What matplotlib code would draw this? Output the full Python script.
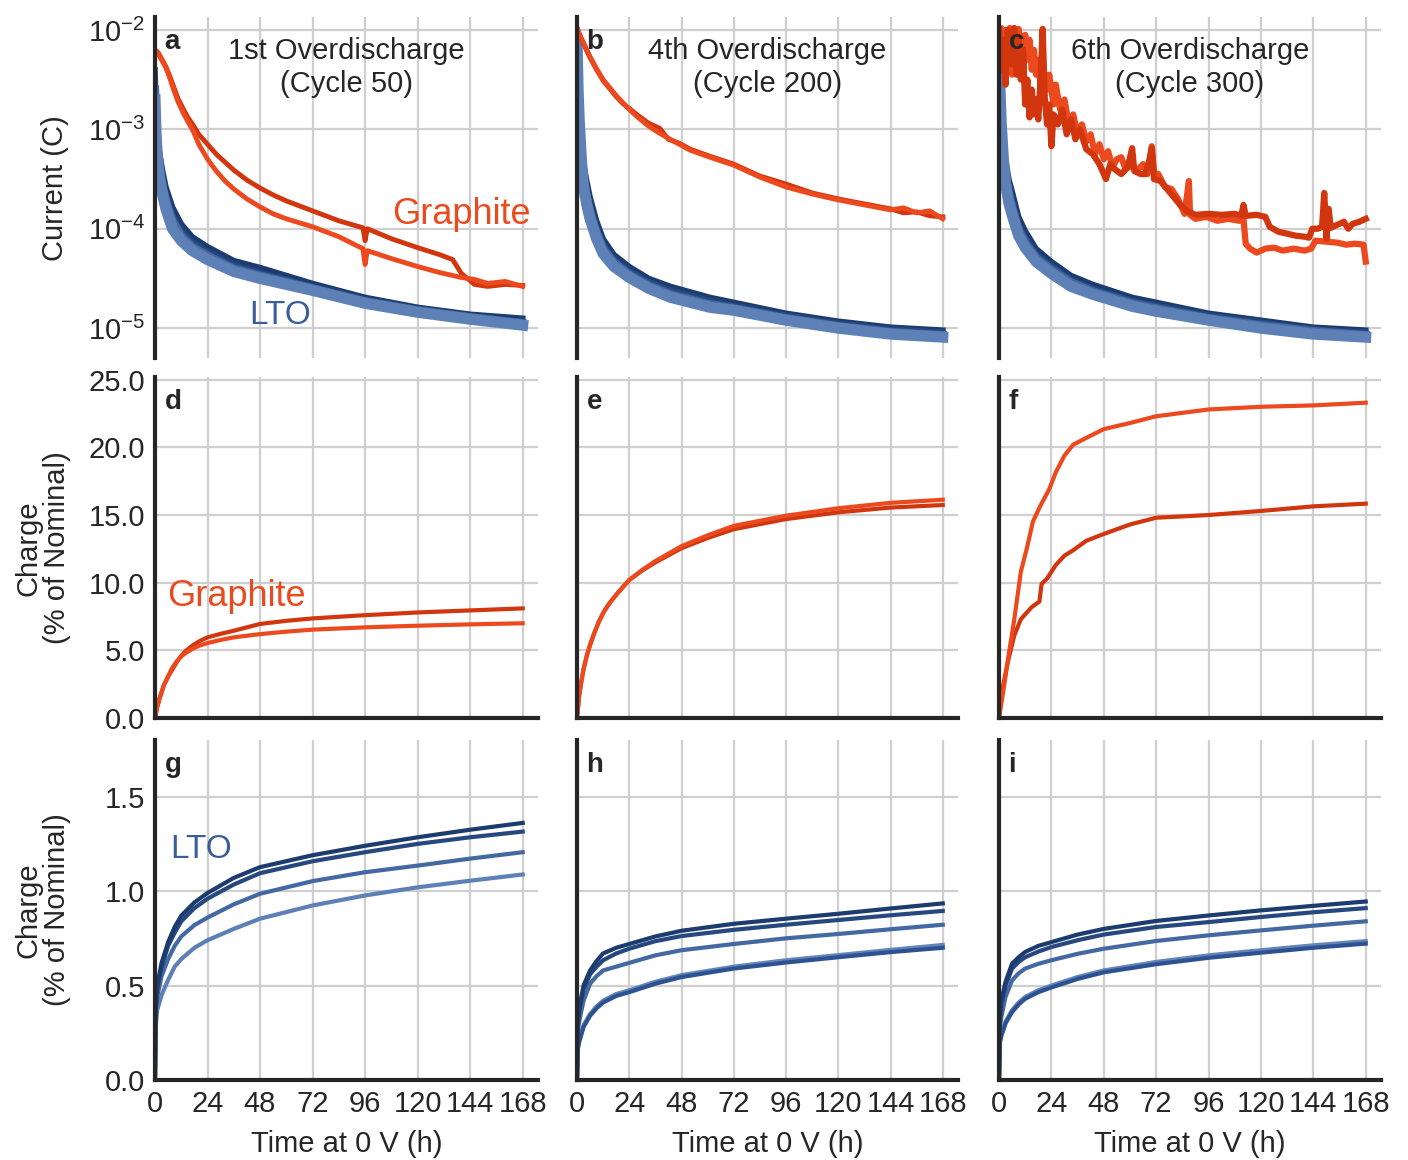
import numpy as np
import matplotlib as mpl
mpl.use('Agg')
import matplotlib.pyplot as plt
from matplotlib.ticker import FixedLocator, FormatStrFormatter, NullFormatter

plt.rcParams['font.family'] = ['Liberation Sans', 'DejaVu Sans']
plt.rcParams['mathtext.default'] = 'regular'

# ---------------- data ----------------
hours = [0, 24, 48, 72, 96, 120, 144, 168]
titles = ['1st Overdischarge\n(Cycle 50)', '4th Overdischarge\n(Cycle 200)',
          '6th Overdischarge\n(Cycle 300)']

# top row: log10 of current (C)
t_gr_a = [0, 1.5, 3, 5, 7, 8.5, 10.5, 13, 15, 17.5, 20, 24, 28, 32, 36, 42, 48, 54, 60,
          66, 72, 84, 95, 96, 97, 108, 120, 130, 136, 140, 146, 152, 160, 168]
gr_a_dark = [-2.2, -2.23, -2.29, -2.37, -2.48, -2.57, -2.69, -2.8, -2.88, -2.96, -3.05,
             -3.15, -3.25, -3.33, -3.41, -3.51, -3.59, -3.66, -3.72, -3.77, -3.82, -3.92,
             -3.99, -4.12, -4.0, -4.1, -4.19, -4.26, -4.31, -4.45, -4.56, -4.58, -4.56,
             -4.57]
gr_a_bright = [-2.2, -2.24, -2.3, -2.38, -2.5, -2.6, -2.72, -2.84, -2.92, -3.02, -3.15,
               -3.3, -3.42, -3.52, -3.6, -3.7, -3.78, -3.85, -3.9, -3.94, -3.98, -4.08,
               -4.2, -4.36, -4.22, -4.3, -4.38, -4.44, -4.47, -4.49, -4.51, -4.55, -4.53,
               -4.58]

t_gr_b = [0, 1.5, 3, 4.5, 6, 9, 12, 15, 18, 21, 24, 28, 33, 38, 42, 47, 52, 61, 72, 84,
          96, 108, 120, 132, 144, 150, 156, 162, 168]
gr_b_bright = [-1.98, -2.06, -2.13, -2.2, -2.27, -2.39, -2.5, -2.58, -2.66, -2.73, -2.8,
               -2.88, -2.97, -3.04, -3.09, -3.15, -3.21, -3.28, -3.36, -3.48, -3.58,
               -3.65, -3.71, -3.76, -3.81, -3.79, -3.84, -3.82, -3.9]
gr_b_dark = [-1.98, -2.07, -2.14, -2.21, -2.28, -2.4, -2.51, -2.59, -2.67, -2.74, -2.79,
             -2.86, -2.94, -2.99, -3.1, -3.14, -3.2, -3.27, -3.35, -3.47, -3.55, -3.64,
             -3.7, -3.75, -3.8, -3.84, -3.83, -3.87, -3.88]

t_gr_c_bright = [0, 1, 2, 3, 4, 5, 6, 7, 8, 9, 10, 11, 12, 13, 14, 15, 16, 17, 18, 19, 20,
                 22, 23, 25, 26, 28, 30, 32, 34, 36, 38, 40, 42, 44, 46, 48, 50, 52, 54,
                 56, 58, 61, 63, 66, 68, 70, 71, 73, 76, 79, 82, 85, 87, 87.5, 90, 95,
                 100, 105, 110, 112, 113, 115, 118, 122, 126, 130, 135, 140, 143, 145,
                 150, 155, 159, 163, 167, 168]
gr_c_bright = [-2.05, -1.98, -2.3, -2.0, -2.2, -1.98, -2.45, -2.05, -2.3, -1.99, -2.15,
               -2.5, -2.05, -2.3, -2.1, -2.4, -2.2, -2.45, -2.3, -2.55, -2.35, -2.6, -2.45,
               -2.75, -2.55, -2.8, -2.7, -2.95, -2.85, -3.05, -2.95, -3.12, -3.05, -3.25,
               -3.15, -3.3, -3.22, -3.38, -3.3, -3.28, -3.4, -3.36, -3.42, -3.35, -3.45,
               -3.17, -3.44, -3.45, -3.58, -3.6, -3.7, -3.85, -3.52, -3.86, -3.9, -3.88,
               -3.92, -3.9, -3.92, -3.9, -4.15, -4.2, -4.24, -4.2, -4.19, -4.22, -4.2,
               -4.22, -4.2, -4.12, -4.13, -4.14, -4.16, -4.15, -4.16, -4.33]
t_gr_c_dark = [0, 1, 2, 3, 4, 5, 6, 7, 8, 9, 10, 11, 12, 13, 14, 15, 16, 17, 18, 19, 20,
               21, 22, 23, 24, 25, 27, 29, 31, 33, 35, 37, 40, 43, 46, 49, 51, 53, 56,
               59, 61, 62, 65, 67, 69, 70, 71, 74, 77, 80, 83, 86, 90, 96, 102, 108,
               111, 112, 113, 118, 122, 124, 128, 132, 136, 140, 142, 143.5, 146, 148,
               149, 150, 151, 152, 155, 158, 160, 162, 165, 168]
gr_c_dark = [-2.0, -2.4, -2.1, -2.55, -2.0, -2.2, -2.35, -1.98, -2.45, -2.1, -2.5, -2.2,
             -2.75, -2.5, -2.88, -2.6, -2.85, -2.7, -2.9, -2.5, -1.99, -2.7, -2.95, -2.75,
             -3.17, -2.85, -2.95, -2.8, -3.05, -2.9, -3.1, -3.0, -3.2, -3.25, -3.35, -3.5,
             -3.35, -3.4, -3.45, -3.38, -3.19, -3.42, -3.45, -3.45, -3.3, -3.19, -3.5,
             -3.52, -3.6, -3.68, -3.76, -3.82, -3.86, -3.85, -3.86, -3.85, -3.87, -3.76,
             -3.87, -3.86, -3.88, -3.98, -4.03, -4.05, -4.07, -4.08, -4.09, -4.0, -4.0,
             -3.98, -3.64, -4.1, -3.8, -3.99, -3.96, -3.93, -4.0, -3.95, -3.93, -3.9]

t_lto_a = [0, 0.5, 1, 2, 3.5, 5, 8, 12, 17, 24, 36, 48, 72, 96, 120, 144, 168]
lto_a = [
    [-2.4, -2.8, -3.0, -3.22, -3.42, -3.58, -3.78, -3.95, -4.08, -4.18, -4.32, -4.39,
     -4.55, -4.69, -4.79, -4.86, -4.9],
    [-2.5, -2.88, -3.08, -3.3, -3.5, -3.65, -3.85, -4.01, -4.13, -4.23, -4.36, -4.44,
     -4.58, -4.71, -4.81, -4.88, -4.93],
    [-2.6, -2.95, -3.16, -3.38, -3.58, -3.72, -3.92, -4.07, -4.18, -4.27, -4.4, -4.47,
     -4.6, -4.73, -4.82, -4.89, -4.95],
    [-2.7, -3.05, -3.25, -3.48, -3.66, -3.8, -4.0, -4.12, -4.22, -4.31, -4.43, -4.5,
     -4.62, -4.75, -4.84, -4.91, -4.97],
]
t_lto_bc = [0, 0.5, 1, 2, 3, 4.5, 6, 9, 12, 17, 24, 33, 43, 61, 72, 96, 120, 144, 168]
lto_b = [
    [-2.0, -2.4, -2.7, -3.05, -3.34, -3.52, -3.68, -3.92, -4.1, -4.26, -4.38, -4.5,
     -4.58, -4.69, -4.74, -4.85, -4.93, -4.99, -5.02],
    [-2.05, -2.47, -2.77, -3.13, -3.42, -3.6, -3.76, -3.98, -4.15, -4.3, -4.42, -4.53,
     -4.62, -4.72, -4.77, -4.87, -4.95, -5.01, -5.04],
    [-2.08, -2.53, -2.84, -3.21, -3.5, -3.68, -3.83, -4.04, -4.2, -4.34, -4.46, -4.57,
     -4.66, -4.76, -4.8, -4.9, -4.98, -5.04, -5.07],
    [-2.1, -2.6, -2.9, -3.3, -3.58, -3.76, -3.9, -4.1, -4.25, -4.38, -4.49, -4.6,
     -4.69, -4.79, -4.82, -4.92, -5.0, -5.06, -5.09],
]
lto_c = [
    [-2.1, -2.45, -2.72, -3.05, -3.3, -3.5, -3.62, -3.88, -4.02, -4.2, -4.33, -4.47,
     -4.56, -4.69, -4.74, -4.85, -4.92, -4.99, -5.02],
    [-2.15, -2.5, -2.79, -3.13, -3.38, -3.58, -3.7, -3.95, -4.08, -4.25, -4.37, -4.51,
     -4.6, -4.72, -4.77, -4.87, -4.94, -5.01, -5.04],
    [-2.18, -2.56, -2.86, -3.21, -3.46, -3.66, -3.78, -4.01, -4.14, -4.29, -4.41, -4.54,
     -4.63, -4.75, -4.8, -4.9, -4.97, -5.03, -5.07],
    [-2.2, -2.62, -2.93, -3.3, -3.55, -3.74, -3.86, -4.07, -4.19, -4.33, -4.45, -4.58,
     -4.66, -4.78, -4.83, -4.92, -5.0, -5.06, -5.09],
]

# middle row: graphite charge (% of nominal)
t_d = [0, 1, 2, 4, 6, 8, 10, 12, 14, 17, 20, 24, 30, 36, 48, 60, 72, 96, 120, 144, 168]
d_dark = [0, 0.8, 1.4, 2.4, 3.05, 3.6, 4.15, 4.6, 4.95, 5.34, 5.65, 5.96, 6.22, 6.45,
          6.95, 7.18, 7.36, 7.6, 7.8, 7.95, 8.1]
d_bright = [0, 0.8, 1.4, 2.4, 3.1, 3.74, 4.2, 4.55, 4.8, 5.1, 5.33, 5.54, 5.77, 5.96,
            6.2, 6.38, 6.53, 6.7, 6.82, 6.92, 7.0]
t_e = [0, 1, 2, 3, 4.5, 6, 8, 10, 12.5, 15, 19, 24, 30, 36, 48, 60, 72, 96, 120, 144, 168]
e_bright = [0, 1.65, 2.7, 3.6, 4.6, 5.4, 6.3, 7.1, 7.9, 8.5, 9.3, 10.2, 10.95, 11.6, 12.7,
            13.5, 14.2, 14.95, 15.5, 15.9, 16.13]
e_dark = [0, 1.65, 2.7, 3.6, 4.6, 5.4, 6.3, 7.1, 7.9, 8.5, 9.3, 10.2, 10.9, 11.5, 12.55,
          13.3, 13.95, 14.7, 15.2, 15.55, 15.74]
t_f_bright = [0, 2, 4, 7, 10, 13, 15.5, 19, 23, 26, 30, 34, 40, 48, 60, 72, 96, 120, 144, 168]
f_bright = [0, 2.0, 4.2, 7.3, 10.8, 12.7, 14.5, 15.7, 16.9, 18.15, 19.4, 20.2, 20.7, 21.35,
            21.8, 22.3, 22.8, 23.0, 23.1, 23.3]
t_f_dark = [0, 1.5, 4, 7, 10, 15, 18.5, 19.5, 22, 26, 30, 34, 40, 48, 60, 72, 96, 120, 144, 168]
f_dark = [0, 2.1, 4.1, 6.1, 7.3, 8.2, 8.6, 9.9, 10.3, 11.3, 12.0, 12.4, 13.1, 13.6, 14.3,
          14.8, 15.0, 15.3, 15.64, 15.84]

# bottom row: LTO charge (% of nominal)
t_lto_q = [0, 0.3, 1, 3, 6, 9, 12, 18, 24, 36, 48, 72, 96, 120, 144, 168]
g_q = [
    [0, 0.38, 0.5, 0.62, 0.73, 0.81, 0.87, 0.94, 0.99, 1.07, 1.127, 1.19, 1.24, 1.285, 1.325, 1.361],
    [0, 0.36, 0.48, 0.6, 0.71, 0.78, 0.84, 0.91, 0.96, 1.035, 1.095, 1.158, 1.206, 1.25, 1.285, 1.315],
    [0, 0.33, 0.44, 0.55, 0.64, 0.71, 0.76, 0.82, 0.86, 0.93, 0.986, 1.053, 1.10, 1.135, 1.172, 1.206],
    [0, 0.28, 0.37, 0.45, 0.53, 0.6, 0.64, 0.7, 0.74, 0.80, 0.854, 0.924, 0.977, 1.02, 1.055, 1.088],
]
h_q = [
    [0, 0.3, 0.38, 0.5, 0.58, 0.63, 0.67, 0.70, 0.72, 0.76, 0.79, 0.827, 0.854, 0.88, 0.908, 0.935],
    [0, 0.28, 0.36, 0.48, 0.56, 0.60, 0.634, 0.67, 0.695, 0.735, 0.762, 0.795, 0.822, 0.847, 0.872, 0.895],
    [0, 0.25, 0.31, 0.42, 0.51, 0.55, 0.58, 0.60, 0.62, 0.66, 0.687, 0.72, 0.75, 0.773, 0.798, 0.822],
    [0, 0.16, 0.2, 0.28, 0.34, 0.38, 0.41, 0.445, 0.465, 0.51, 0.545, 0.59, 0.622, 0.65, 0.677, 0.70],
    [0, 0.17, 0.21, 0.29, 0.35, 0.39, 0.42, 0.455, 0.475, 0.52, 0.555, 0.60, 0.634, 0.661, 0.689, 0.715],
]
i_q = [
    [0, 0.32, 0.42, 0.52, 0.616, 0.65, 0.678, 0.71, 0.73, 0.77, 0.80, 0.842, 0.871, 0.898, 0.922, 0.945],
    [0, 0.30, 0.4, 0.5, 0.59, 0.625, 0.65, 0.68, 0.704, 0.74, 0.77, 0.81, 0.836, 0.863, 0.888, 0.91],
    [0, 0.26, 0.33, 0.44, 0.528, 0.565, 0.59, 0.615, 0.634, 0.668, 0.695, 0.736, 0.766, 0.792, 0.817, 0.84],
    [0, 0.19, 0.23, 0.3, 0.36, 0.40, 0.43, 0.465, 0.49, 0.535, 0.57, 0.613, 0.647, 0.674, 0.70, 0.722],
    [0, 0.2, 0.24, 0.31, 0.37, 0.41, 0.44, 0.475, 0.50, 0.545, 0.58, 0.625, 0.66, 0.687, 0.713, 0.735],
]

# ---------------- style ----------------
RED_BRIGHT = '#ec4a1e'
RED_DARK = '#d2360f'
BLUES = ['#1c3b6e', '#26487f', '#4468a2', '#5d80b6']
BLUE_5 = ['#1c3b6e', '#26487f', '#4468a2', '#2d5291', '#6585ba']
LTO_TXT = '#3a5e9a'
SPINE = '#262626'
GRID = '#cfcfcf'
FS = 21

W, H = 1408.0, 1160.0
col_px = [(155, 383), (577, 381), (999, 382)]
row_px = [(17, 358), (377, 718), (740, 1080)]


def make_ax(fig, r, c):
  l, w = col_px[c]
  t, b = row_px[r]
  ax = fig.add_axes([l / W, 1 - b / H, w / W, (b - t) / H])
  for s in ['top', 'right']:
    ax.spines[s].set_visible(False)
  ax.spines['left'].set_color(SPINE)
  ax.spines['left'].set_linewidth(3)
  ax.spines['bottom'].set_color(SPINE)
  ax.spines['bottom'].set_linewidth(3)
  if r == 0:
    ax.spines['bottom'].set_visible(False)
  ax.set_xlim(0, 175)
  ax.xaxis.set_major_locator(FixedLocator(hours))
  ax.grid(True, color=GRID, linewidth=1.6)
  ax.set_axisbelow(True)
  ax.tick_params(length=0, labelsize=FS, colors=SPINE, pad=7)
  if r < 2:
    ax.xaxis.set_major_formatter(NullFormatter())
  else:
    ax.set_xlabel('Time at 0 V (h)', fontsize=FS, color=SPINE, labelpad=9)
  return ax


def curr(vals):
  return np.power(10.0, vals)


def panel_letter(ax, s):
  ax.text(0.025, 0.965, s, transform=ax.transAxes, ha='left', va='top',
          fontsize=20, fontweight='bold', color=SPINE)


fig = plt.figure(figsize=(14.08, 11.6), dpi=100)
letters = 'abcdefghi'

gr_sets = [
    [(t_gr_a, gr_a_dark, RED_DARK), (t_gr_a, gr_a_bright, RED_BRIGHT)],
    [(t_gr_b, gr_b_dark, RED_DARK), (t_gr_b, gr_b_bright, RED_BRIGHT)],
    [(t_gr_c_bright, gr_c_bright, RED_BRIGHT), (t_gr_c_dark, gr_c_dark, RED_DARK)],
]
lto_sets = [(t_lto_a, lto_a), (t_lto_bc, lto_b), (t_lto_bc, lto_c)]
mid_sets = [
    [(t_d, d_dark, RED_DARK), (t_d, d_bright, RED_BRIGHT)],
    [(t_e, e_dark, RED_DARK), (t_e, e_bright, RED_BRIGHT)],
    [(t_f_dark, f_dark, RED_DARK), (t_f_bright, f_bright, RED_BRIGHT)],
]
bot_sets = [g_q, h_q, i_q]

for c in range(3):
  # current
  ax = make_ax(fig, 0, c)
  ax.set_yscale('log')
  ax.set_ylim(10 ** -5.3, 10 ** -1.87)
  ax.yaxis.set_major_locator(FixedLocator([1e-5, 1e-4, 1e-3, 1e-2]))
  ax.yaxis.set_minor_locator(FixedLocator([]))
  tl, sets = lto_sets[c]
  for k, lw in zip(range(4), [4, 4, 6, 8]):
    ax.plot(tl, curr(sets[k]), color=BLUES[k], lw=lw)
  lw_red = 4.5 if c == 2 else 3.5
  for t, v, col in gr_sets[c]:
    ax.plot(t, curr(v), color=col, lw=lw_red)
  if c > 0:
    ax.yaxis.set_major_formatter(NullFormatter())
  else:
    ax.text(140, 10 ** -3.86, 'Graphite', color=RED_BRIGHT, fontsize=26,
            ha='center', va='center')
    ax.text(57, 10 ** -4.87, 'LTO', color=LTO_TXT, fontsize=24,
            ha='center', va='center')
  ax.text(0.5, 0.94, titles[c], transform=ax.transAxes, ha='center', va='top',
          fontsize=FS, color=SPINE, linespacing=1.2)
  panel_letter(ax, letters[c])

  # graphite charge
  ax = make_ax(fig, 1, c)
  ax.set_ylim(0, 25.2)
  ax.yaxis.set_major_locator(FixedLocator([0, 5, 10, 15, 20, 25]))
  for t, v, col in mid_sets[c]:
    ax.plot(t, v, color=col, lw=3)
  if c > 0:
    ax.yaxis.set_major_formatter(NullFormatter())
  else:
    ax.yaxis.set_major_formatter(FormatStrFormatter('%.1f'))
    ax.text(37, 8.95, 'Graphite', color=RED_BRIGHT, fontsize=26,
            ha='center', va='center')
  panel_letter(ax, letters[3 + c])

  # LTO charge
  ax = make_ax(fig, 2, c)
  ax.set_ylim(0, 1.8)
  ax.yaxis.set_major_locator(FixedLocator([0, 0.5, 1.0, 1.5]))
  curves = bot_sets[c]
  cols = BLUES if len(curves) == 4 else BLUE_5
  for k in range(len(curves) - 1, -1, -1):
    ax.plot(t_lto_q, curves[k], color=cols[k], lw=3)
  if c > 0:
    ax.yaxis.set_major_formatter(NullFormatter())
  else:
    ax.yaxis.set_major_formatter(FormatStrFormatter('%.1f'))
    ax.text(21, 1.22, 'LTO', color=LTO_TXT, fontsize=24, ha='center', va='center')
  panel_letter(ax, letters[6 + c])

fig.text(55 / W, 1 - 188 / H, 'Current (C)', rotation=90, ha='center', va='center',
         fontsize=FS, color=SPINE)
for yc in [548, 910]:
  fig.text(43 / W, 1 - yc / H, 'Charge\n(% of Nominal)', rotation=90, ha='center',
           va='center', fontsize=FS, color=SPINE, linespacing=1.0)

fig.savefig('out.png', dpi=100)
